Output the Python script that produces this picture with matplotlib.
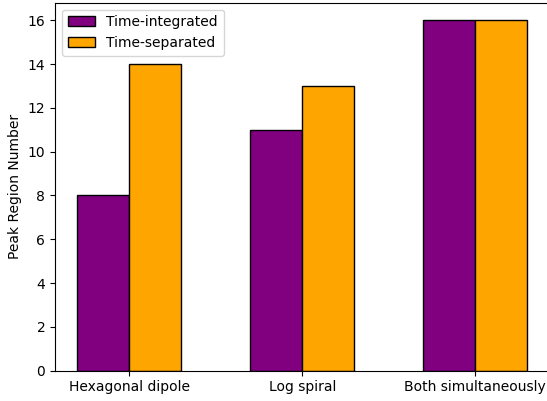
import matplotlib
matplotlib.use("Agg")
import matplotlib.pyplot as plt
import numpy as np

categories = ["Hexagonal dipole", "Log spiral", "Both simultaneously"]
time_integrated = [8, 11, 16]
time_separated = [14, 13, 16]

W, H = 547, 401
fig = plt.figure(figsize=(W / 100, H / 100), dpi=100)
x0_px, x1_px = 55, 549.4
y_bot_px, y_top_px = 370.7, 2.7
ax = fig.add_axes([x0_px / W, (H - y_bot_px) / H,
                   (x1_px - x0_px) / W, (y_bot_px - y_top_px) / H])

x = np.arange(len(categories))
w = 0.3
ax.bar(x - w / 2, time_integrated, w, color="purple", edgecolor="black", label="Time-integrated")
ax.bar(x + w / 2, time_separated, w, color="orange", edgecolor="black", label="Time-separated")

ax.set_xticks(x)
ax.set_xticklabels(categories)
ax.set_ylim(0, 16.8)
ax.set_ylabel("Peak Region Number")
ax.legend(loc="upper left")
# the right edge of the axes falls just past the canvas
ax.spines["right"].set_visible(False)

fig.savefig("out.png", dpi=100)
